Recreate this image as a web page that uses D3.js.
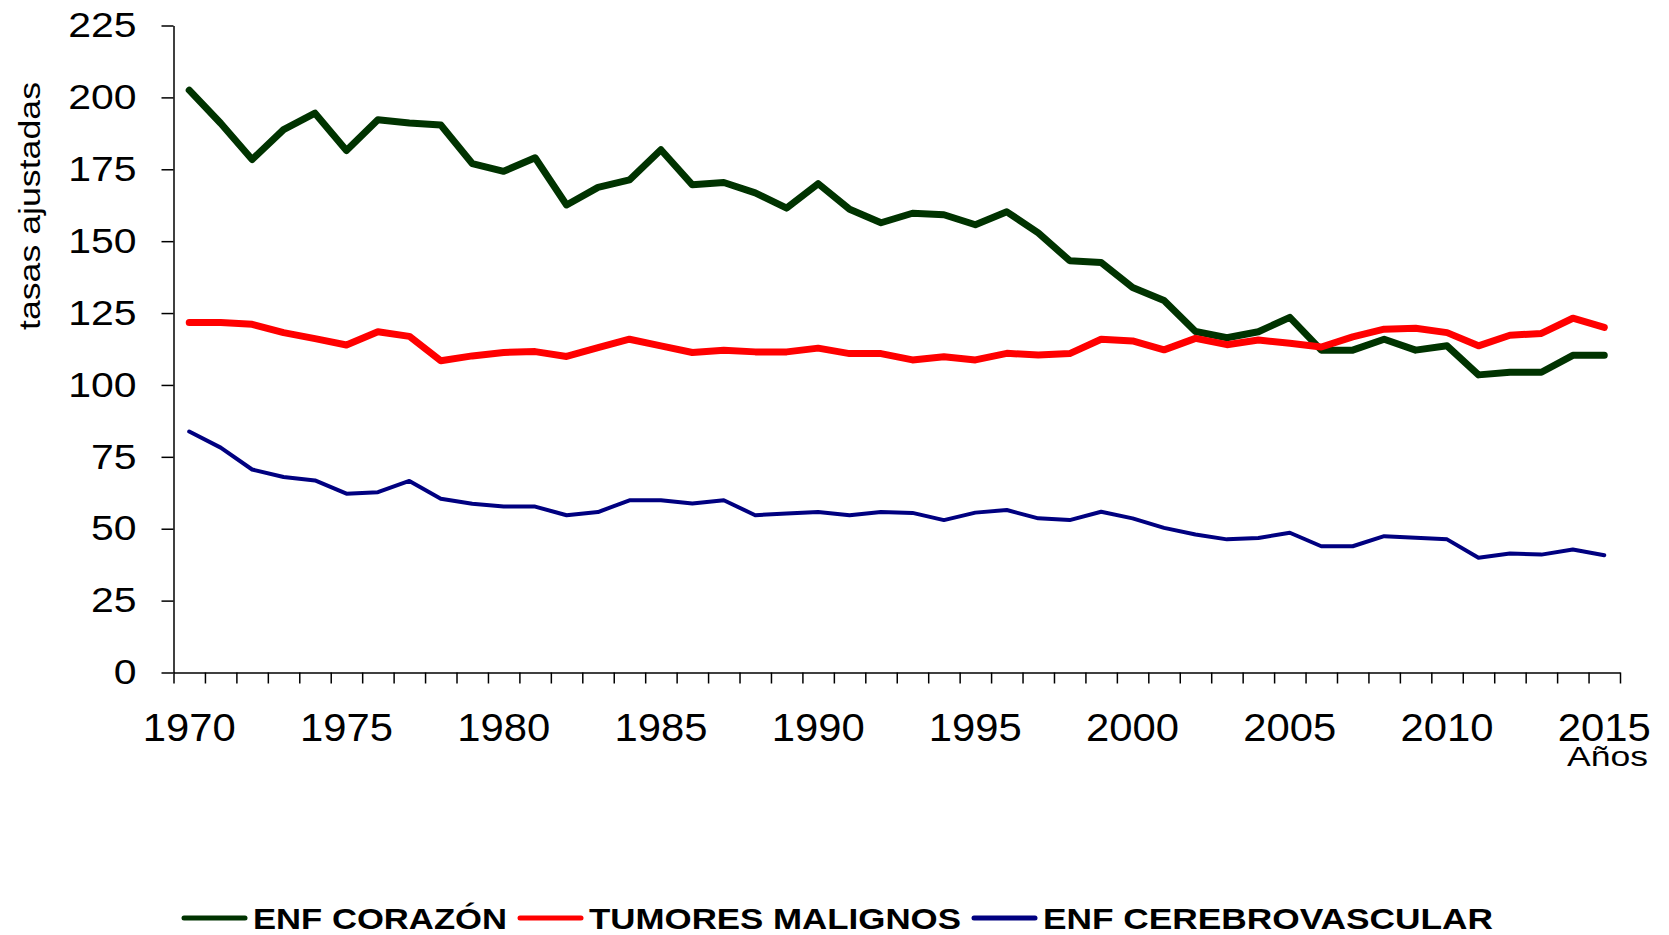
<!DOCTYPE html>
<html>
<head>
<meta charset="utf-8">
<script src="https://cdn.jsdelivr.net/npm/d3@7"></script>
<style>
  body { margin: 0; background: white; }
  svg { display: block; font-family: "Liberation Sans", Arial, sans-serif; }
</style>
</head>
<body>
<svg id="chart"></svg>
<script>
// tasas ajustadas por año
var years = d3.range(1970, 2016);

var corazon = [202.5, 191, 178.4, 188.8, 194.5, 181.5, 192.2, 191.1, 190.4, 177,
    174.3, 179, 162.6, 168.7, 171.3, 181.8, 169.6, 170.4, 166.8, 161.5,
    170, 161.1, 156.4, 159.7, 159.2, 155.7, 160.2, 152.9, 143.2, 142.6,
    133.9, 129.4, 118.6, 116.4, 118.5, 123.5, 112.1, 112.1, 115.9, 112.1,
    113.6, 103.5, 104.4, 104.4, 110.3, 110.3];

var tumores = [121.7, 121.7, 121.1, 118.2, 116.1, 113.9, 118.5, 116.9, 108.4, 110.1,
    111.3, 111.6, 109.9, 113, 115.9, 113.6, 111.3, 112.1, 111.5, 111.5,
    112.8, 110.9, 110.9, 108.7, 109.8, 108.7, 111, 110.4, 110.9, 115.9,
    115.3, 112.2, 116.2, 114, 115.6, 114.5, 113.2, 116.7, 119.4, 119.7,
    118.2, 113.6, 117.3, 117.9, 123.2, 120];

var cerebro = [83.8, 78.2, 70.6, 68, 66.8, 62.2, 62.7, 66.6, 60.4, 58.7,
    57.7, 57.7, 54.7, 55.8, 59.9, 59.9, 58.8, 59.9, 54.7, 55.3,
    55.8, 54.7, 55.8, 55.5, 53, 55.6, 56.5, 53.6, 53, 55.9,
    53.6, 50.3, 48, 46.3, 46.8, 48.6, 43.9, 43.9, 47.4, 46.9,
    46.3, 39.9, 41.4, 41, 42.8, 40.8];

var seriesNames = ["ENF CORAZÓN", "TUMORES MALIGNOS", "ENF CEREBROVASCULAR"];
var seriesValues = [corazon, tumores, cerebro];
var yTicks = [0, 25, 50, 75, 100, 125, 150, 175, 200, 225];
var labelYears = [1970, 1975, 1980, 1985, 1990, 1995, 2000, 2005, 2010, 2015];

var dimensions = {
    width: 1669,
    height: 935,
    margin: { top: 25.5, bottom: 262.5, right: 49, left: 173.5 }
};

var svg = d3.select("#chart")
    .attr("width", dimensions.width)
    .attr("height", dimensions.height);

var colors = ["#003300", "#ff0000", "#000080"];
var widths = [7, 7, 4];

// stretch text horizontally like the original picture
function stretch(sel, k) {
    sel.each(function () {
        var w = this.getComputedTextLength();
        d3.select(this).attr("textLength", w * k).attr("lengthAdjust", "spacingAndGlyphs");
    });
}

var xScale = d3.scaleBand()
    .domain(years)
    .range([dimensions.margin.left, dimensions.width - dimensions.margin.right])
    .padding(0);

var xEdge = d3.scaleLinear()
    .domain([1969.5, 2015.5])
    .range([dimensions.margin.left, dimensions.width - dimensions.margin.right]);

var yScale = d3.scaleLinear()
    .domain([0, 225])
    .range([dimensions.height - dimensions.margin.bottom, dimensions.margin.top]);

var bottom = dimensions.height - dimensions.margin.bottom;

// x axis: ticks between years
var xAxis = svg.append("g")
    .attr("transform", `translate(0,${bottom})`)
    .call(d3.axisBottom(xEdge)
        .tickValues(d3.range(1969.5, 2016, 1))
        .tickFormat("")
        .tickSize(11)
        .tickSizeOuter(0));
xAxis.selectAll("path, line").attr("stroke", "#000").attr("stroke-width", 1.5);

var xLabels = svg.append("g")
    .attr("transform", `translate(0,${bottom})`)
    .call(d3.axisBottom(xScale)
        .tickValues(labelYears)
        .tickSize(0)
        .tickPadding(40));
xLabels.select(".domain").remove();
xLabels.selectAll("text")
    .attr("font-size", 38)
    .attr("font-family", "Liberation Sans, Arial, sans-serif")
    .attr("fill", "#000")
    .attr("dy", "0")
    .attr("y", 68);
stretch(xLabels.selectAll("text"), 1.1);

// y axis
var yAxis = svg.append("g")
    .attr("transform", `translate(${dimensions.margin.left},0)`)
    .call(d3.axisLeft(yScale)
        .tickValues(yTicks)
        .tickSize(12)
        .tickSizeOuter(0)
        .tickPadding(25));
yAxis.selectAll("path, line").attr("stroke", "#000").attr("stroke-width", 1.5);
yAxis.selectAll("text")
    .attr("font-size", 35)
    .attr("font-family", "Liberation Sans, Arial, sans-serif")
    .attr("fill", "#000");
stretch(yAxis.selectAll("text"), 1.17);

svg.append("text")
    .attr("text-anchor", "middle")
    .attr("transform", "translate(40,206) rotate(-90)")
    .attr("font-size", 29)
    .attr("textLength", 248)
    .attr("lengthAdjust", "spacingAndGlyphs")
    .text("tasas ajustadas");

svg.append("text")
    .attr("text-anchor", "end")
    .attr("x", 1648)
    .attr("y", 766)
    .attr("font-size", 28)
    .attr("textLength", 81)
    .attr("lengthAdjust", "spacingAndGlyphs")
    .text("Años");

// lines
var line = d3.line()
    .x((d, i) => xScale(years[i]) + xScale.bandwidth() / 2)
    .y(d => yScale(d));

svg.selectAll(".serie")
    .data(seriesValues)
    .enter()
    .append("path")
    .attr("class", "serie")
    .attr("d", d => line(d))
    .attr("fill", "none")
    .attr("stroke", (d, i) => colors[i])
    .attr("stroke-width", (d, i) => widths[i])
    .attr("stroke-linejoin", "round")
    .attr("stroke-linecap", "round");

// legend
var legendX = [184, 520, 974];
var legendTextWidth = [254, 372, 450];
var legend = svg.selectAll(".legend")
    .data(seriesNames)
    .enter()
    .append("g")
    .attr("class", "legend")
    .attr("transform", (d, i) => `translate(${legendX[i]},918)`);

legend.append("line")
    .attr("x1", 0)
    .attr("x2", 61)
    .attr("stroke", (d, i) => colors[i])
    .attr("stroke-width", 5)
    .attr("stroke-linecap", "round");

legend.append("text")
    .attr("x", 69)
    .attr("y", 11)
    .attr("font-size", 30)
    .attr("font-weight", "bold")
    .attr("textLength", (d, i) => legendTextWidth[i])
    .attr("lengthAdjust", "spacingAndGlyphs")
    .text(d => d);
</script>
</body>
</html>
